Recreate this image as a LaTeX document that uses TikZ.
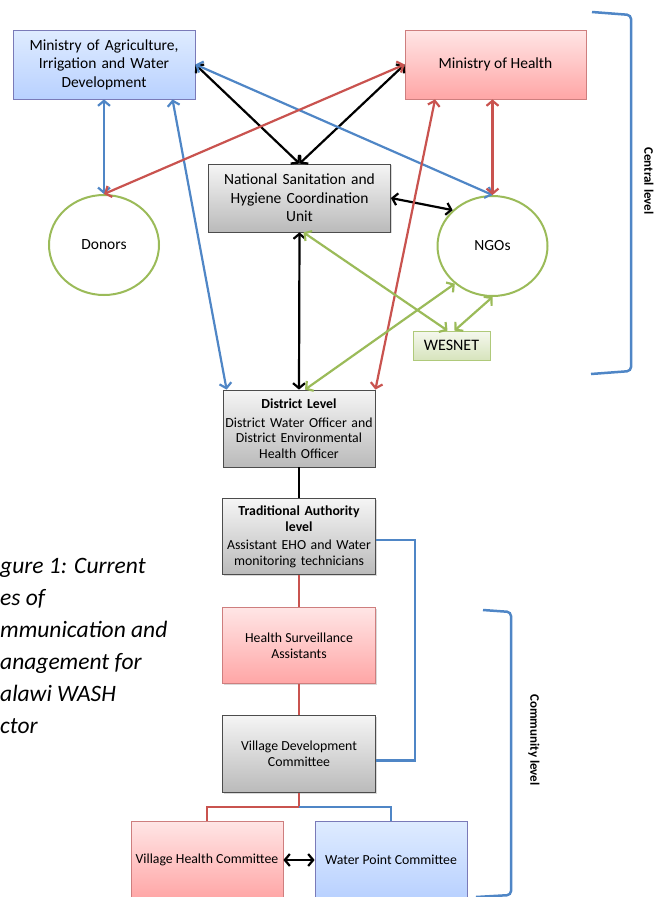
\documentclass[tikz,border=0pt]{standalone}
\usepackage{fontspec}
\setmainfont{Carlito}
\usetikzlibrary{arrows.meta,shapes,positioning,shadows}
\definecolor{wblue}{HTML}{4F86C6}
\definecolor{wred}{HTML}{C9534F}
\definecolor{wgreen}{HTML}{9BBB59}
\tikzset{
  basic/.style  = {draw, thick, rectangle, align=center, inner sep=2pt,
                   drop shadow={opacity=.3,shadow xshift=1.2pt,shadow yshift=-1.2pt}},
  blue box/.style  = {basic, draw=blue!30!gray!80, top color=blue!8!white!95!cyan,
                   bottom color=blue!25!cyan!15!white!85!blue, font=\fontsize{15.5}{18.5}\selectfont},
  red box/.style   = {basic, draw=red!45!gray!70, top color=red!10!white,
                   bottom color=red!35!white, font=\fontsize{15.5}{18.5}\selectfont},
  grey box/.style  = {basic, draw=black!70, top color=black!4, bottom color=black!27,
                   font=\fontsize{13.8}{15.5}\selectfont},
  green box/.style = {basic, draw=wgreen!80, top color=wgreen!10, bottom color=wgreen!40,
                   font=\fontsize{16}{18}\selectfont},
  circ/.style   = {ellipse, draw=wgreen, line width=2pt, fill=white,
                   minimum width=110pt, minimum height=100pt, font=\fontsize{15.5}{18}\selectfont},
  conn/.style   = {line width=2.2pt},
  levelname/.style = {rotate=-90, font=\fontsize{13}{15}\selectfont\bfseries},
}

\begin{document}
\begin{tikzpicture}[x=1pt, y=-1pt,
  >={Straight Barb[length=5pt,width=12pt]}]

\useasboundingbox (0,0) rectangle (657,897);

% central level
\node[blue box, minimum width=182pt, minimum height=69pt, text width=178pt] (moa) at (104,64.5)
  {Ministry of Agriculture,\\ Irrigation and Water\\ Development};
\node[red box, minimum width=181pt, minimum height=69pt] (moh) at (495.5,64.5) {Ministry of Health};
\node[grey box, font=\fontsize{15.5}{18.5}\selectfont, minimum width=181pt, minimum height=68pt,
      text width=178pt] (nshcu) at (299.5,198)
  {National Sanitation and\\ Hygiene Coordination\\ Unit};
\node[circ] (donors) at (104,245) {Donors};
\node[circ] (ngos) at (492.5,246) {NGOs};
\node[green box, minimum width=77pt, minimum height=29pt] (wesnet) at (451.5,345.5) {WESNET};

% district and community levels
\node[grey box, minimum width=152pt, minimum height=77pt, text width=152pt, inner sep=0pt] (dist) at (299,428.5)
  {\textbf{District Level}\\[3pt] District Water Officer and\\ District Environmental\\ Health Officer};
\node[grey box, minimum width=153pt, minimum height=76pt, text width=153pt, inner sep=0pt, below=31pt of dist] (ta)
  {\textbf{Traditional Authority}\\ \textbf{level}\\[3pt] Assistant EHO and Water\\ monitoring technicians};
\node[red box, font=\fontsize{13.8}{15.5}\selectfont, minimum width=153pt, minimum height=76pt,
      below=32pt of ta] (hsa) {Health Surveillance\\ Assistants};
\node[grey box, minimum width=153pt, minimum height=77pt, below=31pt of hsa] (vdc)
  {Village Development\\ Committee};
\node[red box, font=\fontsize{13.8}{15.5}\selectfont, minimum width=152pt, minimum height=78pt,
      inner sep=0pt] (vhc) at (207,860) {Village Health Committee};
\node[blue box, font=\fontsize{13.8}{15.5}\selectfont, minimum width=152pt, minimum height=78pt] (wpc)
  at (391,860) {Water Point Committee};

% level labels
\node[levelname] (central) at (649,181) {Central level};
\node[levelname] (community) at (534,740) {Community level};

\node[anchor=north west, align=left, inner sep=0pt,
      font=\fontsize{23.5}{32}\selectfont\itshape] (caption) at (0,558)
  {gure 1: Current\\ es of\\ mmunication and\\ anagement for\\ alawi WASH\\ ctor};

% black arrows
\draw[conn, <->] (moa.east) -- (nshcu.north);
\draw[conn, <->] (moh.west) -- (nshcu.north);
\draw[conn, <->] (nshcu.east) -- (ngos.138);
\draw[conn, <->] (nshcu.south) -- (dist.north);
\draw[conn, <->] (vhc.east) -- (wpc.west);

% blue arrows
\draw[conn, wblue, <->] (moa.south) -- (donors.north);
\draw[conn, wblue, <->] (moa.east) -- (ngos.north);
\draw[conn, wblue, <->] (moa.-27) -- ([xshift=4pt]dist.north west);

% red arrows
\draw[conn, wred, <->] (moh.west) -- (donors.north);
\draw[conn, wred, <->] (moh.210) -- (dist.north east);
\draw[conn, wred, <->] ([xshift=-3pt]moh.south) -- (ngos.north);

% green arrows
\draw[conn, wgreen, <->] ([xshift=4pt]nshcu.south) -- ([xshift=-4pt]wesnet.north);
\draw[conn, wgreen, <->] (ngos.225) -- ([xshift=6pt]dist.north);
\draw[conn, wgreen, <->] (ngos.south) -- ([xshift=3pt]wesnet.north);

% column links
\draw[line width=2.4pt] (dist) -- (ta);
\draw[line width=2.4pt, wred] (ta) -- (hsa);
\draw[line width=2.4pt, wred] (hsa) -- (vdc);
\draw[line width=2.4pt, wred] (vdc.south) -- ++(0,14) -| (vhc.north);
\draw[line width=2.4pt, wblue] ([yshift=-14pt]vdc.south) -| (wpc.north);
\draw[line width=2.4pt, wblue] ([yshift=-3pt]ta.east) -- ++(39,0) |- ([yshift=-6.5pt]vdc.east);

% brackets
\draw[line width=2.5pt, wblue, rounded corners=4pt] (592,12) -- (631,15) -- (631,371) -- (591,374);
\draw[line width=2.5pt, wblue, rounded corners=4pt] (483,610) -- (511,612) -- (511,895) -- (476,897);

\end{tikzpicture}
\end{document}
